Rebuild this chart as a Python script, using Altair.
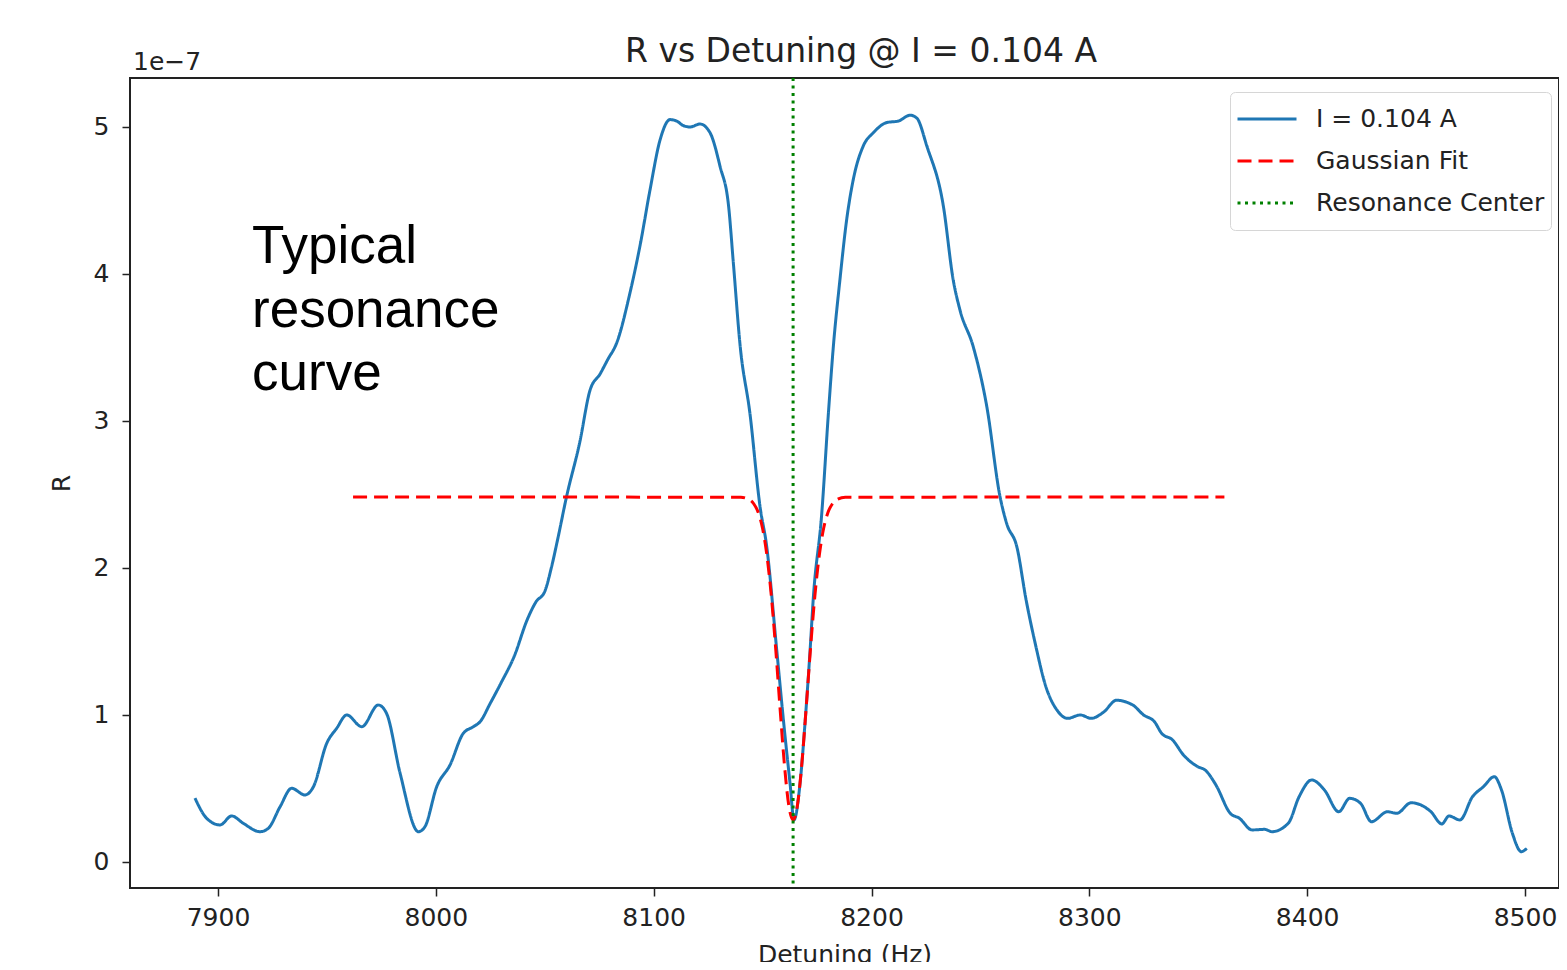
import altair as alt
import pandas as pd

# ---- data (R in units of 1e-7) ----
blue_x = [7889.4, 7894.8, 7900.9, 7906.3, 7911.6, 7919.3, 7923.1, 7928.5, 7933.8, 7939.9,
          7943.8, 7949.9, 7954.5, 7959.1, 7966.0, 7973.6, 7977.4, 7983.6, 7992.0, 7995.0,
          8000.4, 8006.5, 8012.6, 8017.2, 8020.3, 8025.0, 8030.0, 8036.0, 8042.0, 8046.0,
          8050.0, 8053.0, 8056.0, 8060.0, 8066.0, 8070.8, 8075.4, 8079.0, 8083.0, 8089.1,
          8093.7, 8098.3, 8102.9, 8107.5, 8110.6, 8113.5, 8116.7, 8121.3, 8125.9, 8130.5,
          8134.4, 8136.6, 8139.7, 8144.2, 8148.8, 8151.9, 8156.5, 8160.0, 8162.6, 8164.4,
          8167.2, 8169.5, 8171.8, 8173.3, 8177.1, 8180.2, 8182.5, 8185.5, 8188.6, 8191.6,
          8196.2, 8200.8, 8207.0, 8212.3, 8217.7, 8220.8, 8225.4, 8233.0, 8237.5, 8240.6,
          8246.7, 8252.9, 8259.0, 8262.1, 8266.7, 8271.0, 8275.1, 8280.1, 8285.1, 8290.0,
          8295.9, 8300.8, 8306.6, 8312.4, 8319.9, 8324.9, 8329.9, 8333.2, 8338.2, 8343.2,
          8349.8, 8353.1, 8358.1, 8364.7, 8368.9, 8374.7, 8380.5, 8383.8, 8391.3, 8396.3,
          8402.1, 8407.9, 8414.5, 8419.5, 8424.5, 8429.5, 8436.9, 8441.1, 8447.7, 8456.8,
          8461.8, 8465.1, 8470.1, 8475.9, 8480.9, 8485.9, 8489.2, 8494.2, 8498.3, 8500.8]
blue_y = [0.435, 0.297, 0.252, 0.313, 0.263, 0.206, 0.229, 0.376, 0.501, 0.456,
          0.512, 0.807, 0.910, 1.000, 0.920, 1.068, 1.010, 0.603, 0.206, 0.240,
          0.512, 0.660, 0.875, 0.920, 0.954, 1.080, 1.220, 1.400, 1.650, 1.770,
          1.840, 2.000, 2.200, 2.485, 2.850, 3.210, 3.320, 3.420, 3.530, 3.870,
          4.190, 4.570, 4.910, 5.050, 5.040, 5.010, 5.000, 5.020, 4.960, 4.730,
          4.460, 4.070, 3.510, 3.050, 2.420, 2.145, 1.440, 0.900, 0.535, 0.286,
          0.535, 0.950, 1.440, 1.800, 2.360, 3.050, 3.510, 3.960, 4.370, 4.640,
          4.870, 4.960, 5.030, 5.040, 5.080, 5.060, 4.870, 4.460, 3.960, 3.755,
          3.505, 3.100, 2.485, 2.300, 2.145, 1.780, 1.490, 1.190, 1.034, 0.977,
          1.000, 0.977, 1.020, 1.100, 1.068, 1.000, 0.954, 0.875, 0.830, 0.728,
          0.648, 0.626, 0.524, 0.331, 0.297, 0.218, 0.222, 0.206, 0.263, 0.444,
          0.558, 0.490, 0.342, 0.433, 0.399, 0.274, 0.342, 0.331, 0.403, 0.342,
          0.259, 0.313, 0.286, 0.444, 0.512, 0.580, 0.490, 0.195, 0.070, 0.093]

fit_x = [7962, 8140, 8144, 8146, 8148, 8150, 8152, 8154, 8156, 8158, 8160, 8162, 8164,
         8166, 8168, 8170, 8172, 8174, 8176, 8178, 8180, 8182, 8184, 8188, 8362]
fit_y = [2.483, 2.481, 2.464, 2.435, 2.378, 2.268, 2.083, 1.810, 1.453, 1.048, 0.666, 0.387, 0.286,
         0.387, 0.666, 1.048, 1.453, 1.810, 2.083, 2.268, 2.378, 2.435, 2.464, 2.481, 2.483]

center_x = [8164.0]

series_names = ["I = 0.104 A", "Gaussian Fit", "Resonance Center"]
series_colors = ["#1f77b4", "#ff0000", "#008000"]
series_dashes = [[1, 0], [14, 7], [3, 4.5]]

x_ticks = [7900, 8000, 8100, 8200, 8300, 8400, 8500]
y_ticks = [0, 1, 2, 3, 4, 5]

title_text = "R vs Detuning @ I = 0.104 A"
x_title = "Detuning (Hz)"
y_title = "R"
offset_text = "1e\u22127"
note_lines = ["Typical", "resonance", "curve"]

# ---- tables ----
df_data = pd.DataFrame({"x": blue_x, "y": blue_y, "series": series_names[0], "o": range(len(blue_x))})
df_fit = pd.DataFrame({"x": fit_x, "y": fit_y, "series": series_names[1], "o": range(len(fit_x))})
df_center = pd.DataFrame({"x": center_x, "series": series_names[2]})

FONT = "DejaVu Sans"
TXT = "#222222"

xs = alt.Scale(domain=[7859.6, 8515.6], nice=False, zero=False)
ys = alt.Scale(domain=[-0.177, 5.333], nice=False, zero=False)

legend = alt.Legend(
    title=None, orient="none", legendX=1100, legendY=14,
    symbolType="stroke", symbolSize=3481, symbolStrokeWidth=3,
    labelFont=FONT, labelFontSize=25, labelColor=TXT, labelOffset=18,
    fillColor="white", strokeColor="#d6d6d6", cornerRadius=5,
    padding=6, rowPadding=0, clipHeight=42, labelLimit=400,
)
color = alt.Color("series:N", scale=alt.Scale(domain=series_names, range=series_colors), legend=legend)
dash = alt.StrokeDash("series:N", scale=alt.Scale(domain=series_names, range=series_dashes), legend=legend)

x_axis = alt.Axis(values=x_ticks, format="d", title=x_title)
y_axis = alt.Axis(values=y_ticks, format="d", title=y_title)

line_data = alt.Chart(df_data).mark_line(strokeWidth=3, interpolate="monotone").encode(
    x=alt.X("x:Q", scale=xs, axis=x_axis),
    y=alt.Y("y:Q", scale=ys, axis=y_axis),
    order="o:Q", color=color, strokeDash=dash,
)
line_fit = alt.Chart(df_fit).mark_line(strokeWidth=3, interpolate="monotone").encode(
    x=alt.X("x:Q", scale=xs), y=alt.Y("y:Q", scale=ys),
    order="o:Q", color=color, strokeDash=dash,
)
rule_center = alt.Chart(df_center).mark_rule(strokeWidth=3).encode(
    x=alt.X("x:Q", scale=xs), color=color, strokeDash=dash,
)
offset_label = alt.Chart(pd.DataFrame({"t": [offset_text]})).mark_text(
    font=FONT, fontSize=25, color=TXT, align="left", baseline="alphabetic"
).encode(x=alt.value(3), y=alt.value(-8), text="t:N")
title_mark = alt.Chart(pd.DataFrame({"t": [title_text]})).mark_text(
    font=FONT, fontSize=33, color=TXT, align="center", baseline="alphabetic"
).encode(x=alt.value(731), y=alt.value(-16), text="t:N")
note = alt.Chart(pd.DataFrame({"t": [0]})).mark_text(
    text=note_lines, font="Liberation Sans", fontSize=53, lineHeight=63.5,
    color="black", align="left", baseline="alphabetic"
).encode(x=alt.value(122), y=alt.value(185))

chart = alt.layer(line_data, line_fit, rule_center, offset_label, title_mark, note).properties(
    width=1429, height=810,
    autosize=alt.AutoSizeParams(type="none"),
    padding={"left": 122, "top": 70, "right": 0, "bottom": 74},
).configure_view(stroke="#222222", strokeWidth=2).configure_axis(
    labelFont=FONT, labelFontSize=25, labelColor=TXT, titleFont=FONT, titleFontSize=25,
    titleFontWeight="normal", titleColor=TXT, domain=False, grid=False,
    tickSize=8, tickWidth=1.5, tickColor=TXT,
).configure_axisY(labelPadding=13, titlePadding=19).configure_axisX(labelPadding=9, titlePadding=12)

chart.save("out.html", embed_options={"renderer": "svg", "actions": False})
